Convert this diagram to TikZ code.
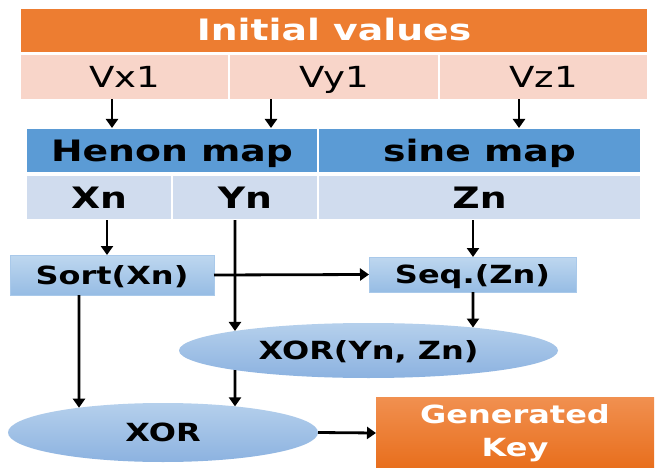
\documentclass[tikz,border=0pt]{standalone}
\usepackage{fontspec}
\setmainfont{DejaVu Sans}[FakeStretch=1.28]
\usetikzlibrary{arrows.meta,shapes.geometric,intersections}

\definecolor{orgtop}{HTML}{ED7D31}
\definecolor{peach}{HTML}{F8D5C9}
\definecolor{mapblue}{HTML}{5B9BD5}
\definecolor{cellblue}{HTML}{D0DCEE}
\definecolor{boxtop}{HTML}{BED7EF}
\definecolor{boxbot}{HTML}{96BCE4}
\definecolor{boxline}{HTML}{A9C9EA}
\definecolor{elltop}{HTML}{B5D0EC}
\definecolor{ellbot}{HTML}{8CB2E0}
\definecolor{keytop}{HTML}{F19050}
\definecolor{keybot}{HTML}{E86E1C}

\tikzset{
  cell/.style={draw=white, line width=1.5pt, minimum height=45, inner sep=0pt, outer sep=0pt,
    text height=21pt, text depth=0pt},
  bigtxt/.style={font=\fontsize{29}{32}\selectfont},
  bigbold/.style={font=\bfseries\fontsize{29.5}{32}\selectfont},
  midbold/.style={font=\bfseries\fontsize{25}{32}\selectfont, text height=18pt, text depth=0pt},
  procbox/.style={draw=boxline, line width=0.8pt, top color=boxtop, bottom color=boxbot,
    inner sep=0pt, outer sep=0pt, midbold},
  xorell/.style={ellipse, draw=none, top color=elltop, bottom color=ellbot,
    inner sep=0pt, outer sep=0pt, midbold},
  arr/.style={line width=2.8pt, -{Triangle[length=9pt,width=12pt]}}
}

\begin{document}
\begin{tikzpicture}[x=1pt,y=-1pt]
  \fill[white] (0,0) rectangle (656,468);
  \useasboundingbox (0,0) rectangle (656,468);

  % initial values table
  \node[cell, fill=orgtop, minimum width=628, text=white, bigbold] (init) at (334,30.5) {Initial values};
  \node[cell, fill=peach, minimum width=209, bigtxt] (vx) at (124.5,77) {Vx1};
  \node[cell, fill=peach, minimum width=210, bigtxt] (vy) at (334,77) {Vy1};
  \node[cell, fill=peach, minimum width=209, bigtxt] (vz) at (543.5,77) {Vz1};

  % chaotic maps table
  \node[cell, fill=mapblue, minimum width=292, bigbold] (henon) at (172,150.5) {Henon map};
  \node[cell, fill=mapblue, minimum width=323, bigbold] (sine) at (479.5,150.5) {sine map};
  \node[cell, fill=cellblue, minimum width=146, bigbold] (xn) at (99,197.5) {Xn};
  \node[cell, fill=cellblue, minimum width=146, bigbold] (yn) at (245,197.5) {Yn};
  \node[cell, fill=cellblue, minimum width=323, bigbold] (zn) at (479.5,197.5) {Zn};

  % processing steps
  \node[procbox, minimum width=204, minimum height=40] (sort) at (112,275) {Sort(Xn)};
  \node[procbox, minimum width=207, minimum height=35] (seq) at (472.5,274.5) {Seq.(Zn)};
  \node[xorell, minimum width=379, minimum height=55] (xyz) at (368.5,350.5) {XOR(Yn, Zn)};
  \node[xorell, minimum width=310, minimum height=59] (xor) at (163,432.5) {XOR};
  \node[draw=none, top color=keytop, bottom color=keybot, minimum width=278, minimum height=72,
        inner sep=0pt, outer sep=0pt, text=white, align=center,
        font=\bfseries\fontsize{25}{33}\selectfont] (key) at (515,433) {Generated\\Key};

  % column positions of the connectors
  \coordinate (cx) at (112,0);
  \coordinate (cy) at (271,0);
  \coordinate (cz) at (519,0);
  \coordinate (cxn) at (107,0);
  \coordinate (cyn) at (235,0);
  \coordinate (czn) at (473,0);
  \coordinate (cxs) at (79,0);

  % borders of the two ellipses and the vertical connector lines
  \path[name path=xyzb] (xyz.center) ellipse [x radius=189.5, y radius=27.5];
  \path[name path=xorb] (xor.center) ellipse [x radius=155, y radius=29.5];
  \path[name path=colY] (cyn |- yn.south) -- (cyn |- xor.south);
  \path[name path=colX] (cxs |- sort.south) -- (cxs |- xor.south);
  \path[name path=colZ] (czn |- seq.south) -- (czn |- xyz.south);
  \path[name intersections={of=colY and xyzb, name=iy, sort by=colY}];
  \path[name intersections={of=colY and xorb, name=iq, sort by=colY}];
  \path[name intersections={of=colX and xorb, name=ix, sort by=colX}];
  \path[name intersections={of=colZ and xyzb, name=iz, sort by=colZ}];

  \draw[arr] (vx.south -| cx) -- (henon.north -| cx);
  \draw[arr] (vy.south -| cy) -- (henon.north -| cy);
  \draw[arr] (vz.south -| cz) -- (sine.north -| cz);

  \draw[arr] (xn.south -| cxn) -- (sort.north -| cxn);
  \draw[arr] (zn.south -| czn) -- (seq.north -| czn);
  \draw[arr] (sort.east) -- (seq.west);
  \draw[arr] (cyn |- yn.south) -- (iy-1);
  \draw[arr] (seq.south -| czn) -- (iz-1);

  \draw[arr] (cxs |- sort.south) -- (ix-1);
  \draw[arr] (iy-2) -- (iq-1);
  \draw[arr] (xor.east) -- (key.west);
\end{tikzpicture}
\end{document}
